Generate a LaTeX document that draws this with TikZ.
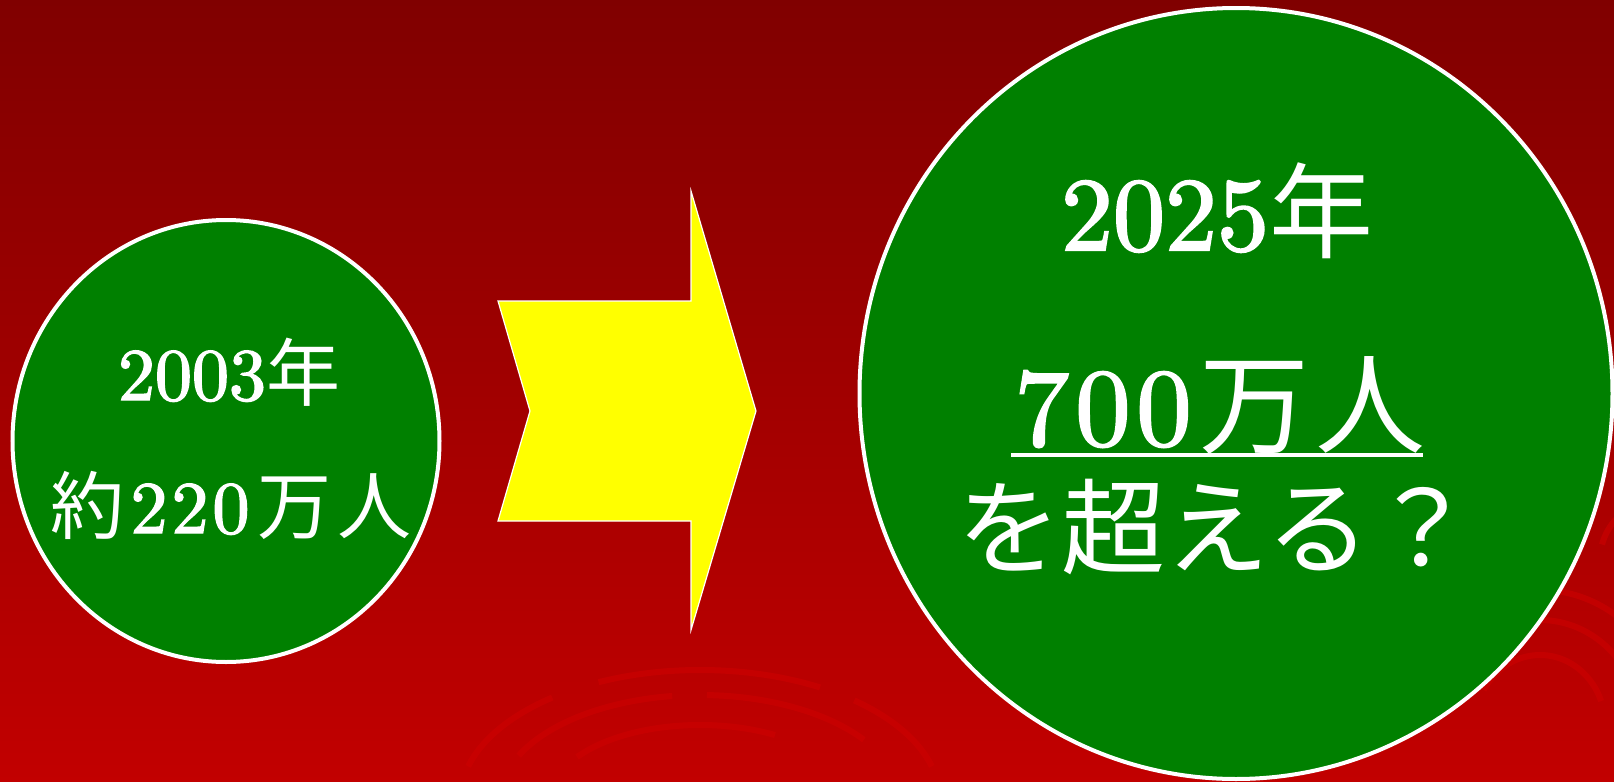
\documentclass[tikz,border=0pt]{standalone}
\usepackage{fontspec}
\newfontfamily\jp{Noto Sans CJK JP}
\newfontfamily\numf{lmroman10-regular.otf}[FakeBold=2]
\usetikzlibrary{shapes.geometric}
\definecolor{bgtop}{RGB}{128,0,0}
\definecolor{bgbot}{RGB}{194,0,0}
\definecolor{swirlc}{RGB}{205,0,0}
\definecolor{circgreen}{RGB}{0,128,0}
\definecolor{arrowyellow}{RGB}{255,255,0}
\begin{document}
\begin{tikzpicture}[x=0.5pt,y=-0.5pt,
  bubble/.style={ellipse,draw=white,line width=2pt,fill=circgreen,inner sep=0pt},
  swirl/.style={draw=swirlc,line width=3pt,opacity=0.6},
  lbl/.style={text=white,inner sep=0pt,anchor=base},
  fsmall/.style={font=\numf\fontsize{37pt}{40pt}\selectfont},
  fbig/.style={font=\numf\fontsize{52pt}{56pt}\selectfont},
  fbigger/.style={font=\numf\fontsize{55pt}{58pt}\selectfont}]
\useasboundingbox (0,0) rectangle (1614,782);
\shade[top color=bgtop,bottom color=bgbot] (0,0) rectangle (1614,782);
% faint swirls
\begin{scope}[swirl]
\draw (700,800) ++(195:240 and 130) arc[start angle=195,end angle=232,x radius=240,y radius=130];
\draw (700,800) ++(245:240 and 130) arc[start angle=245,end angle=300,x radius=240,y radius=130];
\draw (700,800) ++(310:240 and 130) arc[start angle=310,end angle=345,x radius=240,y radius=130];
\draw (700,800) ++(205:200 and 105) arc[start angle=205,end angle=262,x radius=200,y radius=105];
\draw (700,800) ++(272:200 and 105) arc[start angle=272,end angle=325,x radius=200,y radius=105];
\draw (700,800) ++(215:150 and 75) arc[start angle=215,end angle=300,x radius=150,y radius=75];
\draw (1540,725) ++(200:130 and 135) arc[start angle=200,end angle=330,x radius=130,y radius=135];
\draw (1540,725) ++(190:100 and 105) arc[start angle=190,end angle=250,x radius=100,y radius=105];
\draw (1540,725) ++(265:100 and 105) arc[start angle=265,end angle=350,x radius=100,y radius=105];
\draw (1540,725) ++(210:65 and 70) arc[start angle=210,end angle=340,x radius=65,y radius=70];
\draw (1660,560) ++(195:60 and 60) arc[start angle=195,end angle=225,x radius=60,y radius=60];
\end{scope}
% circles
\node[bubble,minimum width=213.5pt,minimum height=221pt] (c1) at (226,441) {};
\node[bubble,minimum width=376.5pt,minimum height=385.5pt] (c2) at (1236,393.5) {};
% arrow
\draw[white,line width=0.6pt,fill=arrowyellow,line join=miter]
  (498,301) -- (691,301) -- (691,191) -- (756,411) -- (691,630) -- (691,521) -- (498,521) -- (530,411) -- cycle;
% texts
\node[lbl,fsmall] (t1) at (229,400) {2003{\jp 年}};
\node[lbl,fsmall] (t2) at (231,533) {{\jp 約}\hspace{3pt}2\hspace{2pt}2\hspace{2pt}0\hspace{4pt}{\jp 万}\hspace{3pt}{\jp 人}};
\node[lbl,fbig] (t3) at (1217,250) {2025{\jp 年}};
\node[lbl,fbigger] (t4) at (1220,445) {7\hspace{3pt}0\hspace{3pt}0\hspace{4pt}{\jp 万}\hspace{3pt}{\jp 人}};
\draw[white,line width=2pt] (1011,455) -- (1423,455);
\node[lbl,fbig] (t5) at (1216,566) {{\jp を超える？}};
\end{tikzpicture}
\end{document}
